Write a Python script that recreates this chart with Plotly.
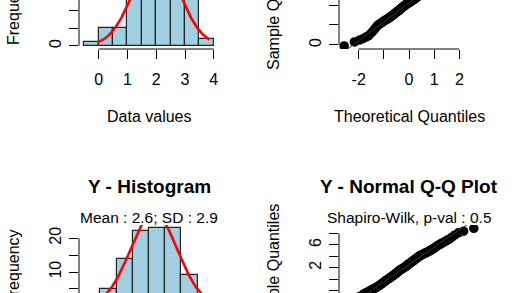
import plotly.graph_objects as go
import numpy as np
from statistics import NormalDist

# ---------------- data ----------------
x_bin_edges = [-0.5, 0, 0.5, 1, 1.5, 2, 2.5, 3, 3.5, 4]
x_counts = [1, 5, 5, 15, 18, 22, 17, 15, 2]
x_mean, x_sd = 2.0, 0.8

y_bin_edges = [-6, -4, -2, 0, 2, 4, 6, 8, 10]
y_counts = [1, 5, 14, 22, 23, 23, 9, 3]
y_mean, y_sd = 2.6, 2.9

x_sample = [
    -0.05, 0.15, 0.25, 0.32, 0.40, 0.47, 0.58, 0.68, 0.78, 0.88, 0.97,
    1.02, 1.06, 1.10, 1.14, 1.18, 1.21, 1.24, 1.27, 1.30, 1.33, 1.36, 1.39, 1.42, 1.45, 1.48,
    1.51, 1.54, 1.57, 1.60, 1.63, 1.66, 1.68, 1.71, 1.74, 1.77, 1.79, 1.82, 1.85, 1.88, 1.91, 1.93, 1.96, 1.98,
    2.01, 2.03, 2.05, 2.07, 2.09, 2.11, 2.13, 2.15, 2.17, 2.19, 2.21, 2.23, 2.26, 2.28, 2.30, 2.33, 2.35, 2.38, 2.40, 2.43, 2.45, 2.48,
    2.51, 2.54, 2.57, 2.60, 2.63, 2.66, 2.69, 2.72, 2.75, 2.78, 2.81, 2.84, 2.87, 2.90, 2.93, 2.96, 2.99,
    3.02, 3.05, 3.08, 3.11, 3.14, 3.17, 3.20, 3.23, 3.26, 3.29, 3.32, 3.36, 3.40, 3.44, 3.48,
    3.62, 3.85,
]
y_sample = [
    -5.5,
    -3.6, -3.0, -2.6, -2.3, -2.1,
    -1.9, -1.75, -1.6, -1.45, -1.3, -1.15, -1.0, -0.85, -0.7, -0.55, -0.4, -0.28, -0.16, -0.05,
    0.05, 0.15, 0.25, 0.35, 0.45, 0.55, 0.65, 0.75, 0.85, 0.95, 1.05, 1.15, 1.25, 1.35, 1.45, 1.55, 1.62, 1.70, 1.77, 1.84, 1.90, 1.96,
    2.05, 2.13, 2.22, 2.30, 2.38, 2.46, 2.55, 2.63, 2.72, 2.80, 2.88, 2.96, 3.05, 3.13, 3.22, 3.30, 3.38, 3.46, 3.55, 3.63, 3.72, 3.80, 3.90,
    4.02, 4.08, 4.14, 4.20, 4.26, 4.32, 4.38, 4.45, 4.52, 4.59, 4.66, 4.73, 4.80, 4.88, 4.96, 5.05, 5.15, 5.25, 5.36, 5.48, 5.60, 5.75, 5.90,
    6.05, 6.15, 6.30, 6.45, 6.60, 6.80, 7.00, 7.30, 7.70,
    8.10, 8.40, 8.90,
]

hist_xticks = [0, 1, 2, 3, 4]
hist_xlabels = ["0", "1", "2", "3", "4"]
hist_yticks = [0, 5, 10, 15, 20]
hist_ylabels = ["0", "", "10", "", "20"]
qq_xticks = [-2, -1, 0, 1, 2]
qq_xlabels = ["-2", "", "0", "1", "2"]
qqx_yticks = [0, 1, 2, 3]
qqx_ylabels = ["0", "", "2", ""]
qqy_yticks = [-6, -4, -2, 0, 2, 4, 6, 8]
qqy_ylabels = ["", "", "", "", "2", "", "6", ""]

# ---------------- layout geometry (pixels) ----------------
W, H = 520, 293
LEFT = (79, 219)
RIGHT = (339, 479)
TOP = (-35, 49)
BOTTOM = (225, 309)
BOTTOM_QQ = (225, 314)

FONT = "Liberation Sans, Arial, Helvetica, sans-serif"
BAR_COLOR = "#9fcfe1"
TICKLEN = 9


def rlim(lo, hi):
    e = 0.04 * (hi - lo)
    return [lo - e, hi + e]


def visible(region, lim):
    t, b = region
    vt, vb = max(t, 0), min(b, H)

    def val(py):
        return lim[0] + (b - py) / (b - t) * (lim[1] - lim[0])

    return [1 - vb / H, 1 - vt / H], [val(vb), val(vt)]


def theo(n):
    nd = NormalDist()
    return [nd.inv_cdf((i + 0.5) / n) for i in range(n)]


fig = go.Figure()
layout_axes = {}
shapes = []
annotations = []


def add_axes(idx, xregion, xlim, yregion, ylim, xt, xl, yt, yl, show_x):
    xs = "" if idx == 1 else str(idx)
    ydom, yrange = visible(yregion, ylim)
    layout_axes["xaxis" + xs] = dict(
        domain=[xregion[0] / W, xregion[1] / W], range=xlim, anchor="y" + xs,
        tickvals=xt, ticktext=xl, ticks="outside" if show_x else "",
        ticklen=TICKLEN, tickwidth=1, tickcolor="black",
        showticklabels=show_x, showline=False, zeroline=False, showgrid=False,
        tickfont=dict(family=FONT, size=16, color="black"),
        ticklabelstandoff=7, fixedrange=True,
    )
    layout_axes["yaxis" + xs] = dict(
        domain=ydom, range=yrange, anchor="x" + xs,
        tickvals=yt, ticktext=yl, ticks="outside", tickangle=-90,
        ticklen=TICKLEN, tickwidth=1, tickcolor="black",
        showline=False, zeroline=False, showgrid=False,
        tickfont=dict(family=FONT, size=16, color="black"),
        ticklabelstandoff=2, fixedrange=True,
    )
    # R-style axis lines spanning the tick range only
    if show_x:
        ypos = 1 - yregion[1] / H
        shapes.append(dict(type="line", xref="x" + xs, yref="paper",
                           x0=xt[0], x1=xt[-1], y0=ypos, y1=ypos,
                           line=dict(color="black", width=1)))
    shapes.append(dict(type="line", xref="paper", yref="y" + xs,
                       x0=xregion[0] / W, x1=xregion[0] / W, y0=yt[0], y1=yt[-1],
                       line=dict(color="black", width=1)))


def hist_panel(idx, edges, counts, mean, sd, sample):
    xs = "" if idx == 1 else str(idx)
    centers = [(a + b) / 2 for a, b in zip(edges[:-1], edges[1:])]
    widths = [b - a for a, b in zip(edges[:-1], edges[1:])]
    fig.add_trace(go.Bar(x=centers, y=counts, width=widths,
                         marker=dict(color=BAR_COLOR, line=dict(color="#222222", width=1.2)),
                         xaxis="x" + xs, yaxis="y" + xs, hoverinfo="skip"))
    n = sum(counts)
    bw = widths[0]
    cx = np.linspace(min(sample), max(sample), 300)
    cy = n * bw * np.exp(-0.5 * ((cx - mean) / sd) ** 2) / (sd * np.sqrt(2 * np.pi))
    fig.add_trace(go.Scatter(x=cx, y=cy, mode="lines", line=dict(color="red", width=2.6),
                             xaxis="x" + xs, yaxis="y" + xs, hoverinfo="skip"))
    return rlim(edges[0], edges[-1]), rlim(0, max(counts))


def qq_panel(idx, sample):
    xs = "" if idx == 1 else str(idx)
    s = sorted(sample)
    t = theo(len(s))
    fig.add_trace(go.Scatter(x=t, y=s, mode="markers",
                             marker=dict(color="black", size=9.5, line=dict(width=0)),
                             xaxis="x" + xs, yaxis="y" + xs, hoverinfo="skip"))
    q1, q3 = np.quantile(s, [0.25, 0.75])
    z1, z3 = NormalDist().inv_cdf(0.25), NormalDist().inv_cdf(0.75)
    slope = (q3 - q1) / (z3 - z1)
    inter = q1 - slope * z1
    xlim = rlim(min(t), max(t))
    lx = np.array(xlim)
    fig.add_trace(go.Scatter(x=lx, y=inter + slope * lx, mode="lines",
                             line=dict(color="#333333", width=1),
                             xaxis="x" + xs, yaxis="y" + xs, hoverinfo="skip"))
    return xlim, rlim(min(s), max(s))


# panel 1: X histogram (top-left)
xl1, yl1 = hist_panel(1, x_bin_edges, x_counts, x_mean, x_sd, x_sample)
add_axes(1, LEFT, xl1, TOP, yl1, hist_xticks, hist_xlabels, hist_yticks, hist_ylabels, True)
# panel 2: X QQ (top-right)
xl2, yl2 = qq_panel(2, x_sample)
add_axes(2, RIGHT, xl2, TOP, yl2, qq_xticks, qq_xlabels, qqx_yticks, qqx_ylabels, True)
# panel 3: Y histogram (bottom-left)
xl3, yl3 = hist_panel(3, y_bin_edges, y_counts, y_mean, y_sd, y_sample)
add_axes(3, LEFT, xl3, BOTTOM, yl3, [], [], hist_yticks, hist_ylabels, False)
# panel 4: Y QQ (bottom-right)
xl4, yl4 = qq_panel(4, y_sample)
add_axes(4, RIGHT, xl4, BOTTOM_QQ, yl4, [], [], qqy_yticks, qqy_ylabels, False)


def ann(text, xpx, ypx, size=16, bold=False, angle=0):
    annotations.append(dict(
        text=f"<b>{text}</b>" if bold else text, xref="paper", yref="paper",
        x=xpx / W, y=1 - ypx / H, xanchor="center", yanchor="middle",
        showarrow=False, textangle=angle,
        font=dict(family=FONT, size=size, color="black")))


lc = (LEFT[0] + LEFT[1]) / 2
rc = (RIGHT[0] + RIGHT[1]) / 2
ann("Data values", lc, 116, 16)
ann("Theoretical Quantiles", rc, 116, 16)
ann("Frequency", LEFT[0] - 66, (TOP[0] + TOP[1]) / 2, 16, angle=-90)
ann("Sample Quantiles", RIGHT[0] - 66, (TOP[0] + TOP[1]) / 2, 16, angle=-90)
ann("Frequency", LEFT[0] - 66, (BOTTOM[0] + BOTTOM[1]) / 2, 16, angle=-90)
ann("Sample Quantiles", RIGHT[0] - 66, (BOTTOM[0] + BOTTOM[1]) / 2, 16, angle=-90)
ann("Y - Histogram", lc, 186, 19, bold=True)
ann("Y - Normal Q-Q Plot", rc, 186, 19, bold=True)
ann("Mean : 2.6; SD : 2.9", lc, 217, 15.5)
ann("Shapiro-Wilk, p-val : 0.5", rc, 217, 15.5)

fig.update_layout(
    width=W, height=H, margin=dict(l=0, r=0, t=0, b=0),
    paper_bgcolor="white", plot_bgcolor="white",
    showlegend=False, bargap=0,
    shapes=shapes, annotations=annotations,
    **layout_axes,
)
fig.write_html("out.html", config={"displayModeBar": False})
